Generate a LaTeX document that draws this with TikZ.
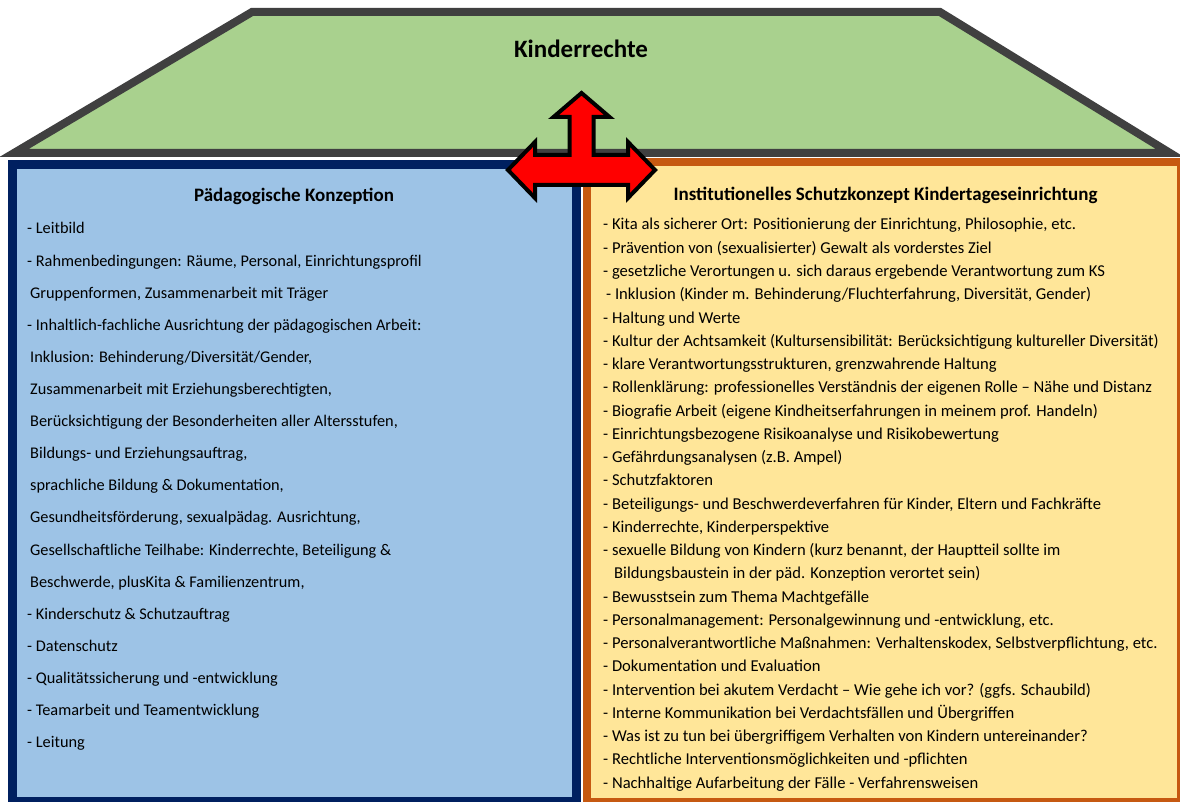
\documentclass[tikz,border=0pt]{standalone}
\usepackage{fontspec}
\setmainfont{Carlito}
\definecolor{roofgreen}{HTML}{A9D18E}
\definecolor{roofline}{HTML}{404040}
\definecolor{lblue}{HTML}{9DC3E6}
\definecolor{navy}{HTML}{002060}
\definecolor{lyellow}{HTML}{FFE699}
\definecolor{borange}{HTML}{C65911}
\begin{document}
\begin{tikzpicture}[x=1pt,y=-1pt,
  roof/.style={fill=roofgreen,draw=roofline,line width=8pt,line join=miter},
  leftbox/.style={fill=lblue,draw=navy,line width=9pt},
  rightbox/.style={fill=lyellow,draw=borange,line width=8pt},
  bigarrow/.style={fill=red,draw=black,line width=4pt,line join=miter},
  title/.style={font=\bfseries\fontsize{19}{22}\selectfont,inner sep=0pt},
  litem/.style={font=\fontsize{16.3}{19}\selectfont,inner sep=0pt,anchor=base west},
  ritem/.style={font=\fontsize{16.6}{19}\selectfont,inner sep=0pt,anchor=base west}]
\useasboundingbox (0,0) rectangle (1180,802);
% roof
\draw[roof] (14,153) -- (252,12) -- (940,12) -- (1170,153) -- cycle;
\node[font=\bfseries\fontsize{25}{29}\selectfont,inner sep=0pt] (kr) at (581,49) {Kinderrechte};
% boxes
\draw[leftbox] (12.5,164.5) rectangle (576,801.5);
\draw[rightbox] (587,162.5) rectangle (1181,801.5);
% arrow
\draw[bigarrow] (581.5,93) -- (609.5,117) -- (593.5,117) -- (593.5,155) -- (628,155) -- (628,142)
  -- (655,170) -- (628,198) -- (628,185) -- (535,185) -- (535,198) -- (508,170) -- (535,142)
  -- (535,155) -- (569.5,155) -- (569.5,117) -- (553.5,117) -- cycle;
% titles
\node[title] (lt) at (294,196) {Pädagogische Konzeption};
\node[title] (rt) at (885.5,195) {Institutionelles Schutzkonzept Kindertageseinrichtung};
% left items
\foreach \t [count=\i] in {
  {- Leitbild},
  {- Rahmenbedingungen: Räume, Personal, Einrichtungsprofil},
  {\hspace{3pt}Gruppenformen, Zusammenarbeit mit Träger},
  {- Inhaltlich-fachliche Ausrichtung der pädagogischen Arbeit:},
  {\hspace{3pt}Inklusion: Behinderung/Diversität/Gender,},
  {\hspace{3pt}Zusammenarbeit mit Erziehungsberechtigten,},
  {\hspace{3pt}Berücksichtigung der Besonderheiten aller Altersstufen,},
  {\hspace{3pt}Bildungs- und Erziehungsauftrag,},
  {\hspace{3pt}sprachliche Bildung \& Dokumentation,},
  {\hspace{3pt}Gesundheitsförderung, sexualpädag. Ausrichtung,},
  {\hspace{3pt}Gesellschaftliche Teilhabe: Kinderrechte, Beteiligung \&},
  {\hspace{3pt}Beschwerde, plusKita \& Familienzentrum,},
  {- Kinderschutz \& Schutzauftrag},
  {- Datenschutz},
  {- Qualitätssicherung und -entwicklung},
  {- Teamarbeit und Teamentwicklung},
  {- Leitung}}
  \node[litem] (l\i) at (27,{234+32.1*(\i-1)}) {\t};
% right items
\foreach \t [count=\i] in {
  {- Kita als sicherer Ort: Positionierung der Einrichtung, Philosophie, etc.},
  {- Prävention von (sexualisierter) Gewalt als vorderstes Ziel},
  {- gesetzliche Verortungen u. sich daraus ergebende Verantwortung zum KS},
  {\hspace{3pt}- Inklusion (Kinder m. Behinderung/Fluchterfahrung, Diversität, Gender)},
  {- Haltung und Werte},
  {- Kultur der Achtsamkeit (Kultursensibilität: Berücksichtigung kultureller Diversität)},
  {- klare Verantwortungsstrukturen, grenzwahrende Haltung},
  {- Rollenklärung: professionelles Verständnis der eigenen Rolle – Nähe und Distanz},
  {- Biografie Arbeit (eigene Kindheitserfahrungen in meinem prof. Handeln)},
  {- Einrichtungsbezogene Risikoanalyse und Risikobewertung},
  {- Gefährdungsanalysen (z.B. Ampel)},
  {- Schutzfaktoren},
  {- Beteiligungs- und Beschwerdeverfahren für Kinder, Eltern und Fachkräfte},
  {- Kinderrechte, Kinderperspektive},
  {- sexuelle Bildung von Kindern (kurz benannt, der Hauptteil sollte im},
  {\hspace{11pt}Bildungsbaustein in der päd. Konzeption verortet sein)},
  {- Bewusstsein zum Thema Machtgefälle},
  {- Personalmanagement: Personalgewinnung und -entwicklung, etc.},
  {- Personalverantwortliche Maßnahmen: Verhaltenskodex, Selbstverpflichtung, etc.},
  {- Dokumentation und Evaluation},
  {- Intervention bei akutem Verdacht – Wie gehe ich vor? (ggfs. Schaubild)},
  {- Interne Kommunikation bei Verdachtsfällen und Übergriffen},
  {- Was ist zu tun bei übergriffigem Verhalten von Kindern untereinander?},
  {- Rechtliche Interventionsmöglichkeiten und -pflichten},
  {- Nachhaltige Aufarbeitung der Fälle - Verfahrensweisen}}
  \node[ritem] (r\i) at (603,{230+23.25*(\i-1)}) {\t};
\end{tikzpicture}
\end{document}
